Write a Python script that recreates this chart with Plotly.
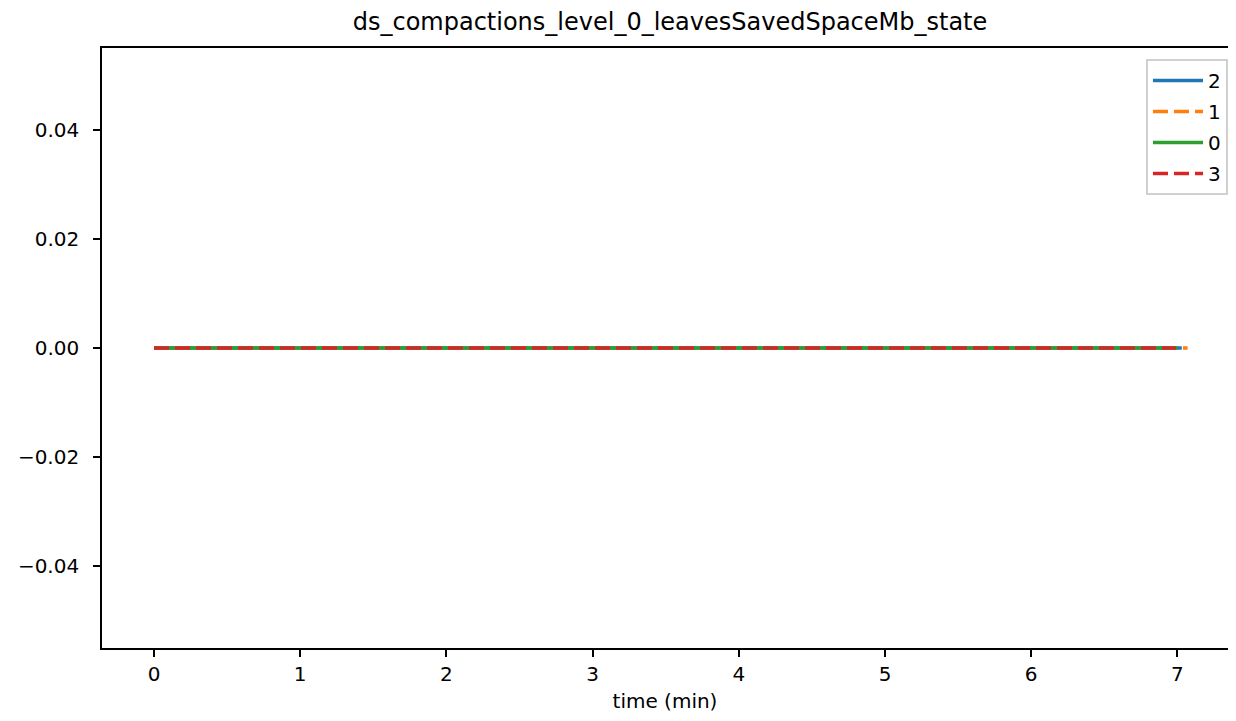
import plotly.graph_objects as go

title = "ds_compactions_level_0_leavesSavedSpaceMb_state"
series_names = ["2", "1", "0", "3"]
time_2 = [0.0, 1.0, 2.0, 3.0, 4.0, 5.0, 6.0, 7.03]
vals_2 = [0, 0, 0, 0, 0, 0, 0, 0]
time_1 = [0.0, 1.0, 2.0, 3.0, 4.0, 5.0, 6.0, 7.07]
vals_1 = [0, 0, 0, 0, 0, 0, 0, 0]
time_0 = [0.0, 1.0, 2.0, 3.0, 4.0, 5.0, 6.0, 7.0]
vals_0 = [0, 0, 0, 0, 0, 0, 0, 0]
time_3 = [0.0, 1.0, 2.0, 3.0, 4.0, 5.0, 6.0, 6.99]
vals_3 = [0, 0, 0, 0, 0, 0, 0, 0]
x_ticks = [0, 1, 2, 3, 4, 5, 6, 7]
y_ticks = [-0.04, -0.02, 0.0, 0.02, 0.04]

colors = ["#1f77b4", "#ff7f0e", "#2ca02c", "#d62728"]
dashes = ["solid", "15px,6px", "solid", "15px,6px"]
data = [(time_2, vals_2), (time_1, vals_1), (time_0, vals_0), (time_3, vals_3)]

# page has an 8px body margin; figure size compensates so nothing scrolls
W, H = 1220, 705
L, T, B = 94, 40, 65
PX_PER_MIN = 146.2
X0_PAGE = 154

fig = go.Figure()
for name, (t, v), c, d in zip(series_names, data, colors, dashes):
    fig.add_trace(go.Scatter(x=t, y=v, mode="lines", name=name, legendgroup=name,
                             line=dict(color=c, width=3.6, dash=d)))

font = "DejaVu Sans"
fig.update_layout(
    width=W, height=H,
    margin=dict(l=L, r=0, t=T, b=B, pad=0),
    paper_bgcolor="white", plot_bgcolor="white",
    font=dict(family=font, size=20, color="black"),
    title=dict(text=title, x=662 / W, xanchor="center", y=1 - 14 / H, yanchor="middle",
               font=dict(family=font, size=24, color="black")),
    showlegend=True,
    legend=dict(x=1.0, xanchor="right", y=1 - 11 / 600, yanchor="top",
                bordercolor="#d0d0d0", borderwidth=2, bgcolor="white",
                font=dict(family=font, size=20), tracegroupgap=2, itemwidth=50),
    xaxis=dict(range=[(102 - X0_PAGE) / PX_PER_MIN, (1228 - X0_PAGE) / PX_PER_MIN],
               tickvals=x_ticks,
               ticktext=[str(v) for v in x_ticks], showgrid=False, zeroline=False,
               showline=True, linecolor="black", linewidth=1.6, mirror=True,
               ticks="outside", ticklen=7, tickcolor="black", tickwidth=1.6,
               tickfont=dict(family=font, size=20), ticklabelstandoff=0,
               title=dict(text="time (min)", font=dict(family=font, size=20), standoff=11)),
    yaxis=dict(range=[-0.055, 0.055], tickvals=y_ticks,
               ticktext=["\u22120.04", "\u22120.02", "0.00", "0.02", "0.04"],
               showgrid=False, zeroline=False,
               showline=True, linecolor="black", linewidth=1.6,
               ticks="outside", ticklen=7, tickcolor="black", tickwidth=1.6,
               tickfont=dict(family=font, size=20), ticklabelstandoff=10),
)
fig.write_html("out.html")
